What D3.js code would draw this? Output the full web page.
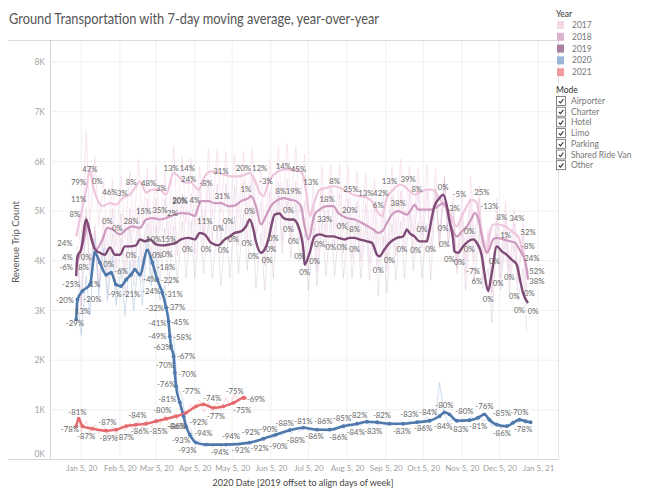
<!DOCTYPE html>
<html><head><meta charset="utf-8">
<script src="https://cdn.jsdelivr.net/npm/d3@7"></script>
<style>
body{margin:0;background:#fff;}
svg{display:block;font-family:Lato,"Open Sans",sans-serif;}
</style></head>
<body><svg id="c" width="647" height="500"></svg>
<script>
// ---- data (day = days after 2020-01-01 on the 2020 axis, value = trips) ----
const years = ["2017","2018","2019","2020","2021"];
const modes = ["Airporter","Charter","Hotel","Limo","Parking","Shared Ride Van","Other"];
const yTicks = [0,1000,2000,3000,4000,5000,6000,7000,8000];

// 7-day moving averages: [day, trips]
const ma2017 = [[0,4490],[4,4960],[8,5430],[11,5840],[13,5570],[17,5230],[21,5100],[27,5160],[32,5130],[37,5260],[43,5330],[48,5500],[51,5600],[56,5370],[61,5430],[67,5430],[72,5330],[78,5770],[82,5700],[87,5570],[92,5570],[98,5430],[103,5700],[108,5800],[114,5770],[119,5730],[124,5700],[130,5700],[135,5730],[139,5770],[143,5630],[147,5370],[150,5300],[154,5570],[158,5730],[162,5800],[167,5840],[172,5840],[178,5820],[182,5700],[184,5430],[187,4900],[191,5200],[195,5430],[201,5470],[206,5500],[211,5470],[217,5400],[222,5330],[227,5300],[233,5270],[238,5160],[242,4960],[245,4900],[249,5270],[254,5430],[259,5530],[263,5500],[267,5400],[271,5330],[275,5370],[281,5430],[285,5430],[291,5260],[295,5100],[298,5030],[301,4830],[305,4690],[309,4900],[313,5100],[317,5230],[321,5160],[323,4900],[326,4430],[329,4160],[331,4490],[334,4730],[338,4730],[344,4690],[349,4590],[354,4490],[358,4160],[361,3820],[362,3760]];

const ma2018 = [[0,3890],[4,4230],[7,4490],[9,4760],[12,4430],[16,4230],[21,4430],[25,4660],[29,4630],[35,4530],[40,4630],[45,4690],[51,4660],[56,4830],[61,4860],[67,4830],[72,4860],[79,4930],[84,4960],[90,4950],[95,4900],[98,5100],[100,5200],[106,5200],[111,5160],[116,5160],[122,5100],[127,5110],[132,5200],[138,5260],[140,5300],[144,5100],[148,4730],[152,4900],[156,5100],[160,5200],[166,5260],[171,5230],[176,5200],[180,5100],[183,4690],[186,4430],[191,4930],[195,5030],[201,5100],[206,5100],[210,4960],[217,4860],[223,4830],[229,4760],[234,4690],[238,4630],[242,4560],[245,4590],[249,4760],[253,4930],[258,5000],[265,4930],[269,5060],[271,5130],[274,5030],[279,5030],[285,5030],[290,5100],[294,5160],[297,5030],[299,4830],[302,4590],[305,4490],[309,4590],[313,4690],[317,4860],[319,4960],[322,4860],[325,4490],[329,4160],[331,4230],[334,4430],[337,4460],[342,4430],[348,4390],[352,4360],[355,4230],[360,3960],[362,3620]];

const ma2019 = [[0,3690],[1,4090],[4,4230],[8,4830],[11,4570],[15,4230],[19,4160],[23,4120],[27,4270],[31,4120],[35,4120],[39,4290],[43,4290],[48,4310],[51,4430],[55,4390],[59,4430],[64,4330],[69,4310],[75,4330],[80,4360],[84,4430],[90,4460],[95,4430],[99,4560],[103,4530],[108,4360],[114,4310],[119,4430],[123,4490],[127,4560],[132,4590],[136,4690],[139,4830],[142,4630],[144,4390],[148,4160],[151,4230],[154,4430],[156,4660],[159,4930],[163,4950],[166,4860],[170,4830],[174,4830],[178,4690],[182,4230],[183,3920],[187,4160],[191,4490],[195,4530],[201,4490],[206,4490],[210,4460],[215,4430],[219,4460],[223,4460],[227,4430],[233,4390],[237,4360],[241,4120],[243,4090],[247,4230],[251,4360],[257,4460],[262,4490],[265,4630],[267,4560],[271,4490],[275,4390],[281,4390],[282,4490],[287,5100],[291,5260],[294,5330],[297,5100],[299,4800],[302,4430],[303,4190],[306,4160],[310,4290],[314,4390],[318,4430],[321,4360],[325,4090],[327,3760],[330,3390],[333,3760],[337,4290],[341,4190],[345,4120],[349,4020],[353,3920],[355,3690],[358,3350],[362,3150]];

const ma2020 = [[0,2820],[1,3220],[5,3390],[11,3520],[15,4160],[19,3960],[24,3720],[28,3760],[32,3520],[36,3490],[40,3620],[44,3720],[47,3820],[51,3720],[57,4210],[61,3960],[65,3620],[69,3360],[72,3060],[74,2780],[75,2480],[76,2280],[78,2080],[79,1750],[80,1470],[83,1150],[86,870],[88,670],[91,500],[96,340],[104,300],[120,300],[139,340],[150,420],[160,500],[171,590],[182,640],[193,600],[203,600],[214,670],[225,720],[233,760],[241,750],[251,720],[262,720],[273,750],[283,780],[291,870],[295,950],[299,910],[305,780],[315,790],[322,840],[327,910],[331,800],[337,700],[345,670],[350,740],[355,800],[360,770],[364,750]];

const ma2021 = [[0,670],[2,820],[5,670],[13,620],[24,580],[32,600],[40,670],[48,700],[56,720],[64,770],[72,820],[80,870],[88,940],[96,1070],[102,1110],[110,1040],[118,1070],[126,1140],[134,1240],[135,1240]];

// daily counts (faint lines): weekday highs (Wednesdays, from day 1) and weekend lows (Sundays, from day 4), one per week
const dailyHigh2017 = [5000,6600,6100,5600,5650,5700,5800,6050,5850,5900,5800,6300,6100,6050,5900,6250,6250,6200,6150,6200,6250,5850,6050,6300,6350,6300,6150,5500,5900,5950,5950,5900,5800,5750,5650,5400,5900,6050,5900,5850,5950,5850,5650,5300,5350,5700,5500,4650,5250,5200,5050,4750];
const dailyLow2017 = [4100,4700,4700,4300,4300,4450,4550,4700,4500,4600,4500,4900,4750,4700,4550,4900,4950,4900,4850,4900,4950,4450,4750,5000,5000,4950,4300,4200,4600,4650,4600,4550,4450,4400,4300,4050,4550,4700,4550,4500,4600,4500,4300,3950,4000,4350,3600,3300,3900,3850,3700,3300];
const dailyHigh2018 = [4300,4900,4700,4850,5050,4950,5050,5100,5250,5250,5250,5300,5350,5350,5500,5600,5550,5550,5500,5600,5700,5200,5400,5600,5650,5600,5200,5100,5450,5500,5350,5250,5200,5150,5050,5000,5300,5400,5350,5450,5400,5450,5550,5050,4950,5200,5250,4550,4850,4800,4750,4500];
const dailyLow2018 = [3100,3700,3500,3650,3850,3750,3850,3900,4050,4050,4050,4100,4150,4150,4300,4400,4350,4350,4300,4400,4500,3900,4200,4400,4450,4400,3800,3800,4250,4300,4150,4050,4000,3950,3850,3800,4100,4200,4150,4250,4200,4250,4350,3850,3750,4000,4050,3350,3650,3600,3550,3100];
const dailyHigh2019 = [4050,5050,4600,4500,4550,4450,4650,4700,4750,4700,4650,4700,4800,4800,4900,4800,4650,4800,4900,4950,5100,4550,4800,5300,5200,5150,4550,4650,4850,4850,4800,4800,4800,4750,4650,4500,4750,4800,4950,4800,4750,5450,5700,4900,4550,4750,4600,3850,4550,4500,4350,3850];
const dailyLow2019 = [3000,3900,3450,3350,3400,3300,3500,3550,3600,3550,3500,3550,3650,3650,3750,3650,3500,3650,3750,3800,3450,3400,3650,4150,4050,4000,3400,3500,3700,3700,3650,3650,3650,3600,3300,3350,3600,3650,3800,3650,3600,4300,4550,3750,3400,3600,3450,2750,3400,3350,3200,2600];
const dailyHigh2020 = [3200,3700,4450,4250,4100,3850,4000,4100,4500,4200,3500,2500,1250,600,380,340,330,330,340,350,380,420,470,520,570,620,650,640,620,640,680,730,760,780,760,740,740,760,780,800,860,860,900,820,820,860,900,840,740,700,770,820];
const dailyLow2020 = [2500,2900,3300,3200,3100,2900,3000,3100,3500,3200,2600,1500,700,330,260,250,250,260,270,300,340,380,430,480,520,560,580,570,560,580,610,650,680,700,690,670,680,700,720,740,740,1550,740,740,780,820,770,660,620,690,730,710];
const dailyHigh2021 = [850,780,700,680,660,700,740,780,800,820,880,920,1000,1120,1200,1150,1150,1250,1330,1300];
const dailyLow2021 = [560,540,520,500,520,580,600,620,650,700,740,800,900,1000,950,960,1000,1080,1150];

// year-over-year % labels: [day, trips, text]
const yoyLabels = [
[11,5850,"47%"],[2,5570,"79%"],[17,5600,"0%"],[27,5370,"46%"],[37,5350,"3%"],[44,5570,"8%"],[58,5550,"48%"],[68,5450,"3%"],[76,5870,"13%"],
[2,5230,"11%"],[-1,4930,"8%"],[25,4790,"0%"],[33,4660,"0%"],[44,4790,"28%"],[54,5000,"15%"],[67,5010,"35%"],[77,4960,"2%"],[83,5220,"20%"],
[-9,4360,"24%"],[-7,4070,"4%"],[8,4080,"0%"],[-8,3860,"-6%"],[6,3860,"8%"],[62,4440,"10%"],[74,4440,"15%"],[44,4120,"0%"],[65,4120,"0%"],[73,4140,"0%"],
[26,3920,"0%"],[36,3790,"-6%"],[59,3620,"-4%"],[-4,3520,"-25%"],[15,3520,"1%"],[31,3320,"-9%"],[44,3320,"-21%"],[-9,3200,"-20%"],[13,3220,"-20%"],
[5,2980,"13%"],[-1,2740,"-29%"],
[72,3860,"-18%"],[75,3600,"-22%"],[60,3390,"-24%"],[78,3330,"-31%"],[63,3050,"-32%"],[80,3070,"-37%"],[65,2740,"-41%"],[83,2760,"-45%"],
[65,2490,"-49%"],[85,2470,"-58%"],[69,2260,"-63%"],[88,2080,"-67%"],[71,1890,"-70%"],[89,1720,"-70%"],[72,1510,"-76%"],[92,1370,"-77%"],
[73,1220,"-81%"],[80,660,"-86%"],[98,750,"-92%"],[84,390,"-93%"],[102,520,"-94%"],[89,180,"-93%"],[115,150,"-94%"],[124,460,"-94%"],
[132,180,"-93%"],[140,540,"-92%"],[147,220,"-92%"],[154,600,"-90%"],[162,270,"-90%"],[167,720,"-88%"],[176,380,"-88%"],[182,770,"-81%"],
[191,460,"-86%"],[198,760,"-86%"],[210,440,"-86%"],[213,820,"-85%"],[224,540,"-84%"],[226,890,"-82%"],[238,570,"-83%"],[245,890,"-82%"],
[261,570,"-83%"],[267,920,"-83%"],[278,620,"-86%"],[282,960,"-84%"],[295,1090,"-80%"],[294,670,"-84%"],[311,970,"-80%"],[307,600,"-83%"],
[327,1070,"-76%"],[322,670,"-81%"],[341,940,"-85%"],[341,520,"-86%"],[355,950,"-70%"],[358,600,"-78%"],
[1,950,"-81%"],[-5,600,"-78%"],[8,460,"-87%"],[25,740,"-87%"],[26,420,"-89%"],[39,440,"-87%"],[49,890,"-84%"],[51,570,"-86%"],
[66,560,"-85%"],[69,990,"-80%"],[81,670,"-86%"],[109,1240,"-74%"],[112,860,"-77%"],[127,1370,"-75%"],[133,990,"-75%"],[144,1220,"-69%"],
[89,5870,"14%"],[90,5650,"24%"],[83,5200,"20%"],[95,5220,"4%"],[116,5800,"31%"],[104,5550,"-8%"],[134,5870,"20%"],[147,5870,"12%"],
[152,5600,"-3%"],[117,5300,"31%"],[136,5430,"1%"],[166,5900,"14%"],[178,5840,"45%"],[164,5400,"8%"],[174,5390,"19%"],[103,4790,"11%"],
[122,4790,"0%"],[139,5000,"0%"],[170,5010,"0%"],[114,4660,"0%"],[170,4640,"0%"],[89,4230,"0%"],[104,4230,"0%"],[118,4210,"0%"],
[126,4430,"0%"],[137,4360,"0%"],[158,4460,"0%"],[156,4230,"0%"],[142,4090,"0%"],[153,4010,"0%"],[174,4390,"0%"],[179,4100,"0%"],
[188,5570,"13%"],[207,5590,"8%"],[220,5430,"25%"],[201,5230,"18%"],[219,5010,"20%"],[232,5350,"13%"],[244,5350,"42%"],[242,5120,"6%"],
[251,5590,"13%"],[266,5650,"39%"],[273,5430,"8%"],[258,5160,"38%"],[199,4830,"33%"],[213,4690,"0%"],[222,4630,"-8%"],[195,4340,"0%"],
[204,4270,"0%"],[213,4270,"0%"],[223,4230,"0%"],[191,3990,"0%"],[183,3760,"0%"],[242,3810,"0%"],[251,4000,"0%"],[261,4240,"0%"],
[272,4210,"0%"],[277,4630,"0%"],[284,4230,"0%"],[294,5470,"0%"],[303,5060,"3%"],[307,5330,"-5%"],[325,5370,"25%"],[331,5100,"-13%"],
[294,4660,"0%"],[295,4330,"0%"],[315,4590,"0%"],[299,4020,"0%"],[307,3970,"0%"],[315,4240,"0%"],[318,3790,"-7%"],[321,3580,"6%"],
[330,3230,"0%"],[335,3990,"0%"],[338,3540,"0%"],[341,4880,"8%"],[353,4850,"34%"],[344,4510,"1%"],[362,4580,"52%"],[362,4290,"-8%"],
[365,4060,"24%"],[347,3670,"0%"],[369,3780,"52%"],[369,3580,"38%"],[351,3290,"0%"],[363,3340,"0%"],[355,3000,"0%"],[366,2980,"0%"]
];

// ---- rendering ----
const svg = d3.select("#c");
const toDate = d => new Date(2020,0,1+d);
const x = d3.scaleTime().domain([new Date(2019,11,11), new Date(2021,0,21)]).range([50,558]);
const y = d3.scaleLinear().domain([0,8443]).range([459.5,40]);

const colors = {"2017":"#efc6dd","2018":"#cf9ac0","2019":"#7e4a76","2020":"#4f78ab","2021":"#e5686c"};
const faint  = {"2017":"#f1d0e3","2018":"#dcb3d1","2019":"#c4a4bd","2020":"#a9c2e2","2021":"#f5a9aa"};
const faintOpacity = {"2017":0.5,"2018":0.38,"2019":0.3,"2020":0.55,"2021":0.45};
const swatch = {"2017":"#f4d9e8","2018":"#dbb1d0","2019":"#a9809f","2020":"#9bb5d8","2021":"#f09a9b"};

const xTicks = d3.range(0,13).map(i => new Date(2020, i, 5));

// gridlines
svg.append("g").selectAll("line").data(yTicks).join("line")
  .attr("x1",50).attr("x2",558).attr("y1",d=>y(d)).attr("y2",d=>y(d))
  .attr("stroke","#f0f0f0").attr("stroke-width",1);
svg.append("g").selectAll("line").data(xTicks).join("line")
  .attr("x1",d=>x(d)).attr("x2",d=>x(d)).attr("y1",40).attr("y2",459.5)
  .attr("stroke","#f0f0f0").attr("stroke-width",1);

// frame
svg.append("line").attr("x1",8).attr("x2",558).attr("y1",40.5).attr("y2",40.5).attr("stroke","#dcdcdc");
svg.append("line").attr("x1",558.5).attr("x2",558.5).attr("y1",40).attr("y2",459.5).attr("stroke","#e4e4e4");
svg.append("line").attr("x1",50.5).attr("x2",50.5).attr("y1",40).attr("y2",459.5).attr("stroke","#d6d6d6");
svg.append("line").attr("x1",8).attr("x2",558).attr("y1",459.5).attr("y2",459.5).attr("stroke","#d6d6d6");

// axes
const yAxis = d3.axisLeft(y).tickValues(yTicks).tickSize(0).tickPadding(5).tickFormat(d => (d/1000)+"K");
const gy = svg.append("g").attr("transform","translate(50,0)").call(yAxis);
gy.select(".domain").remove();
gy.selectAll("text").attr("fill","#a6a6a6").style("font-size","8.5px").style("font-family","Lato,sans-serif");
gy.selectAll(".tick").filter(d=>d===0).select("text").attr("dy","-0.3em");

const fmt = d3.timeFormat("%b %-d, %y");
const xAxis = d3.axisBottom(x).tickValues(xTicks).tickSize(0).tickPadding(6).tickFormat(fmt);
const gx = svg.append("g").attr("transform","translate(0,459.5)").call(xAxis);
gx.select(".domain").remove();
gx.selectAll("text").attr("fill","#a0a0a0").style("font-size","8px").style("font-family","Lato,sans-serif");

svg.append("text").attr("x",303).attr("y",486).attr("text-anchor","middle")
  .attr("fill","#444").style("font-size","9px").text("2020 Date [2019 offset to align days of week]");
svg.append("text").attr("transform","translate(19,242) rotate(-90)").attr("text-anchor","middle")
  .attr("fill","#555").style("font-size","9.5px").text("Revenue Trip Count");

// title
svg.append("text").attr("x",9).attr("y",24).attr("fill","#555").style("font-size","15px")
  .attr("textLength",370).attr("lengthAdjust","spacingAndGlyphs")
  .text("Ground Transportation with 7-day moving average, year-over-year");

// faint daily lines
const daily = (hi, lo) => hi.map((v,i)=>[1+7*i,v]).concat(lo.map((v,i)=>[4+7*i,v])).sort((a,b)=>a[0]-b[0]);
const dailySeries = [["2017",daily(dailyHigh2017,dailyLow2017)],["2018",daily(dailyHigh2018,dailyLow2018)],
  ["2019",daily(dailyHigh2019,dailyLow2019)],["2020",daily(dailyHigh2020,dailyLow2020)],["2021",daily(dailyHigh2021,dailyLow2021)]];
const lineRaw = d3.line().x(d=>x(toDate(d[0]))).y(d=>y(d[1]));
const gf = svg.append("g");
dailySeries.forEach(([yr,data]) => {
  gf.append("path").datum(data).attr("d",lineRaw).attr("fill","none")
    .attr("stroke",faint[yr]).attr("stroke-width",1).attr("stroke-opacity",faintOpacity[yr]);
});

// moving-average lines
const line = d3.line().x(d=>x(toDate(d[0]))).y(d=>y(d[1])).curve(d3.curveMonotoneX);
const series = [["2017",ma2017,2.2],["2018",ma2018,2.2],["2019",ma2019,2.4],["2020",ma2020,2.6],["2021",ma2021,2.4]];
const gl = svg.append("g");
series.forEach(([yr,data,w]) => {
  gl.append("path").datum(data).attr("d",line).attr("fill","none")
    .attr("stroke",colors[yr]).attr("stroke-width",w).attr("stroke-linejoin","round");
});
series.filter(s=>s[0]==="2020"||s[0]==="2021").forEach(([yr,data]) => {
  gl.append("g").selectAll("circle").data(data).join("circle")
    .attr("cx",d=>x(toDate(d[0]))).attr("cy",d=>y(d[1])).attr("r",1.9).attr("fill",colors[yr]);
});

// labels
svg.append("g").selectAll("text").data(yoyLabels).join("text")
  .attr("x",d=>x(toDate(d[0]))).attr("y",d=>y(d[1])).attr("dy","0.35em")
  .attr("text-anchor","middle").attr("fill","#666").style("font-size","7.8px")
  .text(d=>d[2]);

// legend
const lg = svg.append("g").attr("transform","translate(556,0)");
lg.append("text").attr("x",0).attr("y",17).attr("fill","#333").style("font-size","8.5px").text("Year");
years.forEach((yr,i) => {
  lg.append("rect").attr("x",1).attr("y",21+i*11.8).attr("width",7).attr("height",8).attr("fill",swatch[yr]);
  lg.append("text").attr("x",16).attr("y",28+i*11.8).attr("fill","#777").style("font-size","8.5px").text(yr);
});
lg.append("text").attr("x",0).attr("y",93).attr("fill","#333").style("font-size","8.5px").text("Mode");
modes.forEach((m,i) => {
  const yy = 96+i*10.7;
  lg.append("rect").attr("x",0.5).attr("y",yy+0.5).attr("width",9).attr("height",9)
    .attr("fill","#fff").attr("stroke","#666").attr("stroke-width",0.8);
  lg.append("path").attr("d",`M2.8,${yy+5.3} L4.5,${yy+7} L7.4,${yy+3.2}`).attr("fill","none")
    .attr("stroke","#333").attr("stroke-width",1.1);
  lg.append("text").attr("x",15).attr("y",yy+8).attr("fill","#777").style("font-size","8.5px").text(m);
});
</script></body></html>
